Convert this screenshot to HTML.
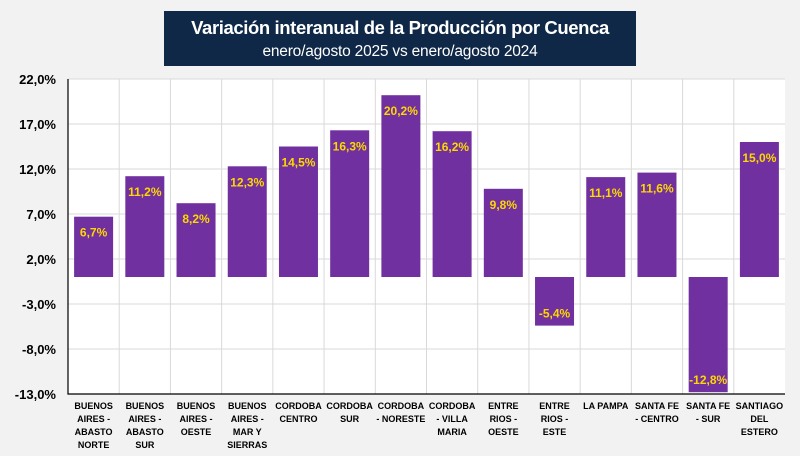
<!DOCTYPE html>
<html><head><meta charset="utf-8"><style>
body{margin:0;background:#f2f2f2;font-family:"Liberation Sans",sans-serif;}
#wrap{position:relative;width:800px;height:456px;overflow:hidden;background:#f2f2f2;}
#title{position:absolute;left:164px;top:11px;width:472px;height:55px;background:#0f2847;color:#fff;text-align:center;white-space:nowrap;}
#t1{font-weight:bold;font-size:18.5px;letter-spacing:-0.4px;margin-top:6px;}
#t2{font-size:15.5px;letter-spacing:-0.2px;margin-top:4px;}
</style></head><body>
<div id="wrap">
<div id="title">
<div id="t1">Variación interanual de la Producción por Cuenca</div>
<div id="t2">enero/agosto 2025 vs enero/agosto 2024</div>
</div>
<svg id="svg" width="800" height="456" style="position:absolute;left:0;top:0"></svg>
</div>
<script>
const categories=[["BUENOS","AIRES -","ABASTO","NORTE"],["BUENOS","AIRES -","ABASTO","SUR"],["BUENOS","AIRES -","OESTE"],["BUENOS","AIRES -","MAR Y","SIERRAS"],["CORDOBA","CENTRO"],["CORDOBA","SUR"],["CORDOBA","- NORESTE"],["CORDOBA","- VILLA","MARIA"],["ENTRE","RIOS -","OESTE"],["ENTRE","RIOS -","ESTE"],["LA PAMPA"],["SANTA FE","- CENTRO"],["SANTA FE","- SUR"],["SANTIAGO","DEL","ESTERO"]];
const values=[6.7,11.2,8.2,12.3,14.5,16.3,20.2,16.2,9.8,-5.4,11.1,11.6,-12.8,15.0];
const ticks=[22,17,12,7,2,-3,-8,-13];
const NS="http://www.w3.org/2000/svg";
const svg=document.getElementById('svg');
const L=68,R=785,T=79,B=394,yMin=-13,yMax=22;
const y=v=>T+(yMax-v)/(yMax-yMin)*(B-T);
const bw=(R-L)/categories.length;
const x=i=>L+i*bw;
const fmt=v=>v.toFixed(1).replace('.',',')+'%';
function mk(tag,attrs,parent){const e=document.createElementNS(NS,tag);for(const k in attrs)e.setAttribute(k,attrs[k]);(parent||svg).appendChild(e);return e;}
const bg=mk('rect',{x:L,y:T,width:R-L,height:B-T,fill:'#fff'});


ticks.forEach(t=>{
 const g=mk('line',{x1:L,x2:R,y1:y(t),y2:y(t),stroke:'#d9d9d9','stroke-width':1});
 
 
 const lb=mk('text',{x:56,y:y(t)+5,'text-anchor':'end','font-size':13,'font-weight':'bold',fill:'#000'});
 lb.textContent=fmt(t);
 
 
});
for(let i=1;i<categories.length;i++){
 const g=mk('line',{x1:x(i),x2:x(i),y1:T,y2:B,stroke:'#d9d9d9','stroke-width':1});
 
 
}
values.forEach((v,i)=>{
 const cx=x(i)+bw/2,w=39;
 const top=Math.min(y(v),y(0)),h=Math.abs(y(v)-y(0));
 const r=mk('rect',{x:cx-w/2,y:top,width:w,height:h,fill:'#7030a0'});
 
 
 const ly=v>=0?y(v)+20:y(v)-8;
 const t=mk('text',{x:cx,y:ly,'text-anchor':'middle','font-size':12,'font-weight':'bold',fill:'#ffd700'});
 t.textContent=fmt(v);
 
 
 categories[i].forEach((s,j)=>{
  const c=mk('text',{x:cx,y:409+j*13,'text-anchor':'middle','font-size':9,'font-weight':'bold',fill:'#000'});
  c.textContent=s;
  
  
 });
});
const ax=mk('path',{d:`M${L} ${T}V${B}H${R}`,stroke:'#000','stroke-width':1.2,fill:'none'});


</script>
</body></html>
